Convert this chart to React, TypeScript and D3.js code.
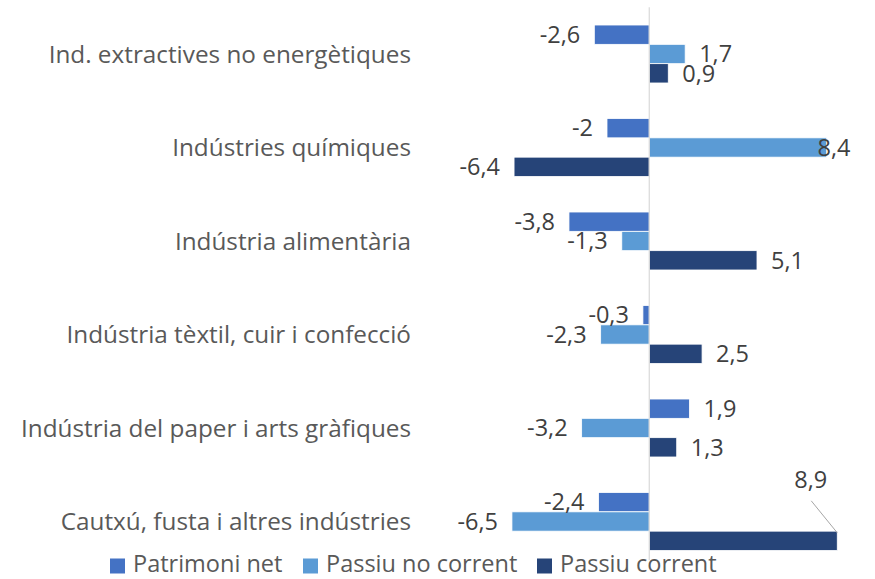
import * as d3 from 'd3'

const width = 875
const height = 579

const categories = [
  'Ind. extractives no energètiques',
  'Indústries químiques',
  'Indústria alimentària',
  'Indústria tèxtil, cuir i confecció',
  'Indústria del paper i arts gràfiques',
  'Cautxú, fusta i altres indústries',
]
const seriesNames = ['Patrimoni net', 'Passiu no corrent', 'Passiu corrent']
const seriesColors = ['#4472C4', '#5B9BD5', '#264478']

const patrimoniNet = [-2.6, -2, -3.8, -0.3, 1.9, -2.4]
const passiuNoCorrent = [1.7, 8.4, -1.3, -2.3, -3.2, -6.5]
const passiuCorrent = [0.9, -6.4, 5.1, 2.5, 1.3, 8.9]
const seriesValues = [patrimoniNet, passiuNoCorrent, passiuCorrent]

const fmt = (v: number) => String(v).replace('.', ',')

export default function App() {
  const x = d3.scaleLinear().domain([-10, 10]).range([438, 860.5])
  const y = d3
    .scaleBand<string>()
    .domain(categories)
    .range([7.25, 568.25])
    .paddingInner(0.38)
    .paddingOuter(0.19)
  const ySeries = d3
    .scaleBand<string>()
    .domain(seriesNames)
    .range([0, y.bandwidth()])

  const labelGap = 14
  const labelMax = 852
  const charW = 11.5 // rough label width per glyph for clamping

  const rows = categories.flatMap((cat, i) =>
    seriesNames.map((s, j) => ({ cat, s, j, v: seriesValues[j][i] }))
  )

  const legendX = [110, 303, 537]

  return (
    <svg width={width} height={height} style={{ display: 'block', position: 'absolute', left: 0, top: 0 }}>
      <rect width={width} height={height} fill="#fff" />
      {categories.map((cat) => (
        <text
          key={cat}
          x={411}
          y={y(cat)! + y.bandwidth() / 2}
          dy=".35em"
          textAnchor="end"
          fontFamily="Open Sans"
          fontSize={24.3}
          fill="#595959"
        >
          {cat}
        </text>
      ))}
      {rows.map((d) => (
        <rect
          key={d.cat + d.s}
          x={x(Math.min(0, d.v))}
          y={y(d.cat)! + ySeries(d.s)!}
          width={Math.abs(x(d.v) - x(0))}
          height={ySeries.bandwidth()}
          fill={seriesColors[d.j]}
          stroke="#fff"
          strokeWidth={0.8}
        />
      ))}
      <line
        x1={x(0)}
        x2={x(0)}
        y1={y.range()[0]}
        y2={y.range()[1] - 8}
        stroke="#d9d9d9"
        strokeWidth={1.2}
      />
      {rows.map((d) => {
        const cy = y(d.cat)! + ySeries(d.s)! + ySeries.bandwidth() / 2
        const label = fmt(d.v)
        const w = label.length * charW
        if (d.v >= 0) {
          let lx = x(d.v) + labelGap
          let ly = cy
          let leader = null
          if (lx + w > labelMax) {
            if (d.cat === categories[categories.length - 1]) {
              // moved above the bar with a leader line, as in the original
              lx = x(d.v) - 43
              ly = cy - 61
              leader = (
                <line
                  x1={lx + 17}
                  y1={ly + 21}
                  x2={x(d.v)}
                  y2={cy - 8}
                  stroke="#a6a6a6"
                  strokeWidth={1}
                />
              )
            } else {
              lx = labelMax - w
            }
          }
          return (
            <g key={'l' + d.cat + d.s}>
              {leader}
              <text x={lx} y={ly} dy=".35em" fontFamily="Open Sans" fontSize={23.5} fill="#404040">
                {label}
              </text>
            </g>
          )
        }
        return (
          <text
            key={'l' + d.cat + d.s}
            x={x(d.v) - labelGap}
            y={cy}
            dy=".35em"
            textAnchor="end"
            fontFamily="Open Sans"
            fontSize={23.5}
            fill="#404040"
          >
            {label}
          </text>
        )
      })}
      {seriesNames.map((s, j) => (
        <g key={s} transform={`translate(${legendX[j]},566)`}>
          <rect x={0} y={-7.5} width={15} height={15} fill={seriesColors[j]} />
          <text x={23} y={5.5} fontFamily="Open Sans" fontSize={23.5} fill="#595959">
            {s}
          </text>
        </g>
      ))}
    </svg>
  )
}
